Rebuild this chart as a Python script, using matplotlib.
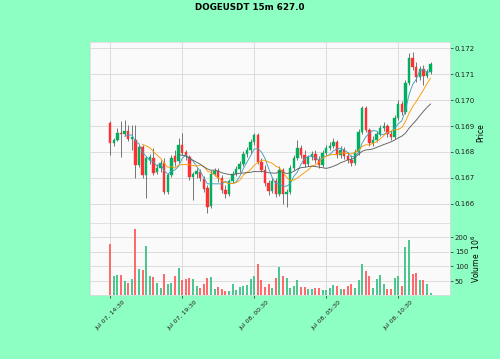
import numpy as np
import pandas as pd
import matplotlib
matplotlib.use("Agg")
import matplotlib.pyplot as plt

title = "DOGEUSDT 15m 627.0"
tick_positions = [0, 20, 40, 60, 80]
tick_labels = ["Jul 07, 14:30", "Jul 07, 19:30", "Jul 08, 00:30", "Jul 08, 05:30", "Jul 08, 10:30"]

opens = [0.16912, 0.16835, 0.16846, 0.16873, 0.16869, 0.16881, 0.16850, 0.16846, 0.16750, 0.16819,
         0.16712, 0.16769, 0.16777, 0.16723, 0.16738, 0.16758, 0.16646, 0.16712, 0.16785, 0.16765,
         0.16827, 0.16800, 0.16781, 0.16704, 0.16715, 0.16723, 0.16696, 0.16662, 0.16592, 0.16715,
         0.16727, 0.16700, 0.16654, 0.16638, 0.16688, 0.16715, 0.16735, 0.16754, 0.16792, 0.16808,
         0.16838, 0.16865, 0.16762, 0.16731, 0.16681, 0.16650, 0.16688, 0.16638, 0.16731, 0.16638,
         0.16646, 0.16738, 0.16777, 0.16815, 0.16788, 0.16754, 0.16781, 0.16792, 0.16769, 0.16750,
         0.16796, 0.16815, 0.16823, 0.16838, 0.16788, 0.16808, 0.16785, 0.16769, 0.16758, 0.16800,
         0.16877, 0.16969, 0.16885, 0.16835, 0.16846, 0.16869, 0.16892, 0.16900, 0.16869, 0.16858,
         0.16931, 0.16985, 0.16954, 0.17065, 0.17162, 0.17127, 0.17088, 0.17119, 0.17092, 0.17108]

highs = [0.16919, 0.16854, 0.16892, 0.16919, 0.16923, 0.16904, 0.16904, 0.16904, 0.16827, 0.16827,
         0.16785, 0.16792, 0.16815, 0.16754, 0.16769, 0.16777, 0.16719, 0.16788, 0.16808, 0.16854,
         0.16873, 0.16808, 0.16788, 0.16723, 0.16738, 0.16735, 0.16708, 0.16673, 0.16731, 0.16738,
         0.16738, 0.16712, 0.16673, 0.16696, 0.16727, 0.16746, 0.16765, 0.16804, 0.16819, 0.16850,
         0.16873, 0.16873, 0.16777, 0.16750, 0.16692, 0.16700, 0.16700, 0.16746, 0.16738, 0.16658,
         0.16750, 0.16788, 0.16846, 0.16827, 0.16808, 0.16788, 0.16804, 0.16808, 0.16785, 0.16808,
         0.16827, 0.16838, 0.16854, 0.16846, 0.16823, 0.16819, 0.16800, 0.16788, 0.16812, 0.16888,
         0.16977, 0.16977, 0.16892, 0.16862, 0.16881, 0.16904, 0.16915, 0.16908, 0.16885, 0.16942,
         0.17000, 0.16996, 0.17077, 0.17181, 0.17185, 0.17146, 0.17131, 0.17135, 0.17119, 0.17146]

lows = [0.16788, 0.16823, 0.16842, 0.16781, 0.16862, 0.16842, 0.16808, 0.16700, 0.16742, 0.16700,
        0.16623, 0.16754, 0.16712, 0.16715, 0.16723, 0.16638, 0.16638, 0.16704, 0.16746, 0.16758,
        0.16788, 0.16769, 0.16692, 0.16615, 0.16700, 0.16688, 0.16646, 0.16565, 0.16585, 0.16708,
        0.16685, 0.16642, 0.16623, 0.16631, 0.16681, 0.16708, 0.16723, 0.16746, 0.16781, 0.16796,
        0.16827, 0.16754, 0.16723, 0.16669, 0.16635, 0.16642, 0.16627, 0.16631, 0.16600, 0.16588,
        0.16638, 0.16731, 0.16769, 0.16777, 0.16742, 0.16746, 0.16769, 0.16758, 0.16738, 0.16742,
        0.16788, 0.16808, 0.16815, 0.16777, 0.16777, 0.16773, 0.16758, 0.16746, 0.16750, 0.16788,
        0.16869, 0.16877, 0.16823, 0.16823, 0.16838, 0.16862, 0.16881, 0.16858, 0.16846, 0.16850,
        0.16923, 0.16942, 0.16946, 0.17058, 0.17115, 0.17069, 0.17077, 0.17058, 0.17085, 0.17100]

closes = [0.16835, 0.16846, 0.16873, 0.16869, 0.16881, 0.16850, 0.16858, 0.16750, 0.16819, 0.16712,
          0.16777, 0.16781, 0.16719, 0.16738, 0.16758, 0.16646, 0.16712, 0.16777, 0.16762, 0.16827,
          0.16796, 0.16785, 0.16704, 0.16715, 0.16727, 0.16700, 0.16658, 0.16588, 0.16715, 0.16727,
          0.16700, 0.16654, 0.16638, 0.16688, 0.16715, 0.16735, 0.16754, 0.16792, 0.16808, 0.16838,
          0.16865, 0.16762, 0.16731, 0.16681, 0.16650, 0.16688, 0.16638, 0.16731, 0.16638, 0.16646,
          0.16738, 0.16777, 0.16815, 0.16788, 0.16754, 0.16781, 0.16792, 0.16769, 0.16750, 0.16796,
          0.16815, 0.16823, 0.16838, 0.16788, 0.16808, 0.16785, 0.16769, 0.16758, 0.16800, 0.16877,
          0.16969, 0.16885, 0.16835, 0.16846, 0.16869, 0.16892, 0.16900, 0.16869, 0.16858, 0.16931,
          0.16985, 0.16954, 0.17065, 0.17162, 0.17127, 0.17088, 0.17119, 0.17092, 0.17108, 0.17138]

volumes = [178, 69, 72, 70, 51, 44, 57, 226, 93, 89,
           168, 67, 65, 45, 28, 75, 39, 44, 69, 94,
           53, 59, 60, 59, 32, 26, 42, 62, 65, 24,
           30, 23, 18, 16, 39, 19, 31, 34, 36, 58,
           67, 109, 55, 30, 41, 28, 62, 98, 67, 60,
           28, 35, 53, 30, 30, 25, 24, 26, 26, 19,
           19, 26, 38, 34, 23, 23, 32, 40, 28, 53,
           107, 84, 69, 28, 56, 72, 39, 23, 23, 62,
           69, 33, 167, 189, 75, 77, 55, 53, 40, 10]

mav_windows = [5, 10, 20]
mav_colors = ["#40a0c0", "#fe9902", "#606060"]

UP, DOWN = "#00b060", "#fe3032"
VUP, VDOWN = "#4dc790", "#fd6b6c"
BG = "#8dffc3"

o = np.array(opens); h = np.array(highs); l = np.array(lows); c = np.array(closes)
v = np.array(volumes)
x = np.arange(len(c))

fig = plt.figure(figsize=(5.0, 3.59), dpi=100, facecolor=BG)
ax = fig.add_axes([0.18, 0.3797, 0.72, 0.5033])
axv = fig.add_axes([0.18, 0.1783, 0.72, 0.2014], sharex=ax)

for a in (ax, axv):
    a.set_facecolor("#fafafa")
    for s in a.spines.values():
        s.set_color("#dcdcdc")
        s.set_linewidth(0.6)
    a.grid(True, color="#d8d8d8", linewidth=0.6)
    a.set_axisbelow(True)
    a.yaxis.tick_right()
    a.yaxis.set_label_position("right")
    a.tick_params(labelsize=5, length=2, width=0.5, colors="#202020", pad=1.5)

up = c >= o
ax.vlines(x, l, h, color="#606060", linewidth=0.6, zorder=2)
body_h = np.abs(c - o)
body_h = np.where(body_h < 0.000008, 0.000008, body_h)
ax.bar(x, body_h, bottom=np.minimum(o, c), width=0.7,
       color=np.where(up, UP, DOWN), edgecolor=np.where(up, UP, DOWN), linewidth=0.3, zorder=3)

cs = pd.Series(c)
for w, col in zip(mav_windows, mav_colors):
    ax.plot(x, cs.rolling(w).mean(), color=col, linewidth=0.65, zorder=4)

ax.set_ylim(0.165281, 0.172231)
ax.set_yticks([0.166, 0.167, 0.168, 0.169, 0.170, 0.171, 0.172])
ax.set_yticklabels(["0.166", "0.167", "0.168", "0.169", "0.170", "0.171", "0.172"])
ax.set_ylabel("Price", fontsize=5.5, labelpad=1)
ax.tick_params(axis="x", labelbottom=False, length=0)

prev = np.concatenate([[o[0]], c[:-1]])
vcol = np.where(c >= prev, VUP, VDOWN)
axv.bar(x, v, width=0.55, color=vcol, zorder=3)
axv.set_ylim(3, 249)
axv.set_yticks([50, 100, 150, 200])
axv.set_ylabel("Volume  $10^{6}$", fontsize=5.5, labelpad=1)

axv.set_xlim(-5.6, 94.4)
axv.set_xticks(tick_positions)
axv.set_xticklabels(tick_labels, rotation=45, fontsize=4.5)

fig.text(0.5, 0.978, title, ha="center", va="center", fontsize=6.3, fontweight="bold")

fig.savefig("out.png", dpi=100, facecolor=BG)
